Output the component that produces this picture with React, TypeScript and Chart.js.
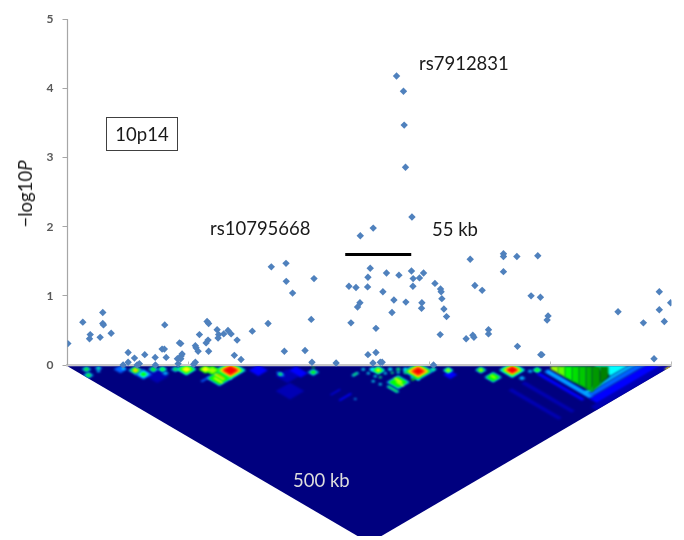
import React, { useEffect, useRef } from "react";
import { Chart, registerables } from "chart.js";

Chart.register(...registerables);

// Association results: position (kb) and -log10 P
const snpPositions = [
  0.3, 12.8, 19, 18.4, 29.5, 29.5, 30.1, 27.3, 36.5, 50.7, 50.7, 46.5, 56, 60.1, 58.2, 64.6, 73.3, 73.5, 79.1, 81, 82.5, 81.3,
  93.6, 94.7, 95.8, 95, 91.9, 94.7, 92.5, 106.9, 107.5, 109.2, 106.9, 105.5, 110.3, 118, 117.5, 115.9, 116.7, 118, 125.1, 126.4,
  125.9, 130.6, 134.2, 136.8, 141.8, 139.5, 145.1, 154.5, 167.7, 181.3, 198.6, 204.4, 203.8, 224.6, 188.2, 206.1, 170.4, 182.7,
  182.9, 253.1, 251.2, 266.7, 277.1, 287.6, 297.7, 289, 294.3, 235.3, 241.2, 250.9, 288.8, 263.7, 307.2, 311.9, 312.4, 313, 272.9,
  282.9, 296.3, 296, 244.5, 242.5, 314.7, 271.3, 316.9, 237, 257.9, 311.6, 251.2, 257.9, 255.4, 261.5, 263.1, 306, 336.7, 364.5,
  364.5, 375.7, 393.2, 364.5, 340.6, 346.7, 387.6, 395.4, 401.8, 401, 352, 352, 338.9, 339.8, 333.3, 376.2, 395.7, 396.6, 460.3,
  481.5, 494.8, 494.8, 499, 504.3, 490.4, 275.1, 280.9, 281.5, 282.6, 288, 255.6, 244.8,
];
const snpLogP = [
  0.31, 0.62, 0.44, 0.38, 0.76, 0.6, 0.58, 0.4, 0.46, 0.18, 0.04, 0, 0.1, 0.02, 0, 0.15, 0.11, 0, 0.23, 0.23, 0.11, 0.58,
  0.32, 0.31, 0.16, 0.13, 0.09, 0.09, 0.02, 0.28, 0.25, 0.2, 0.04, 0.01, 0.44, 0.2, 0.36, 0.32, 0.63, 0.6, 0.51, 0.44,
  0.39, 0.45, 0.5, 0.45, 0.36, 0.14, 0.08, 0.49, 0.6, 0.2, 0.21, 0.04, 0.66, 0.03, 1.04, 1.25, 1.42, 1.47,
  1.21, 1.4, 1.27, 1.33, 1.3, 1.36, 1.33, 1.25, 1.26, 1.14, 1.12, 1.13, 1.14, 1.06, 1.18, 1.1, 1.06, 0.96, 0.94,
  0.91, 0.9, 0.82, 0.9, 0.84, 0.81, 0.76, 0.7, 0.61, 0.53, 0.44, 0.15, 0.18, 0.03, 0.04, 0.04, 0, 1.53, 1.61,
  1.57, 1.57, 1.58, 1.35, 1.15, 1.08, 1.0, 0.98, 0.71, 0.65, 0.51, 0.45, 0.43, 0.4, 0.38, 0.27, 0.15, 0.15, 0.77,
  0.61, 1.06, 0.8, 0.63, 0.9, 0.09, 4.18, 3.96, 3.47, 2.86, 2.14, 1.98, 1.87,
];

// 55 kb scale bar
const barStartKb = 232.2;
const barEndKb = 287.4;
const barLevel = 1.6;

// LD triangle outline: position (kb) and depth (kb), cut by the picture's lower edge
const triangleX = [0, 242.5, 262.5, 505];
const triangleDepth = [0, 242.5, 242.5, 0];

const ldColours = [
  "#00007f", "#0000b4", "#0000ff", "#0060ff", "#00b0ff", "#00ffff", "#00ff80", "#00ff00", "#a0ff00",
  "#ffff00", "#ff8000", "#ff0000", "#60ff00", "#00e000", "#00c800", "#00b000", "#009800", "#008000",
];

// LD regions: centre x, centre depth, half range along A, half range along B, colour level
const ldCells = [
  // left group
  [15.9, 4.3, 4.2, 4.2, 4], [15.9, 4.3, 2.5, 2.5, 7], [17.5, 12.8, 4.5, 4.5, 4], [17.5, 12.8, 2.5, 2.5, 7],
  [25.9, 2.8, 3.5, 3.5, 3], [25.9, 2.8, 2, 2, 6], [25.9, 7, 2, 2, 4],
  [44.3, 4.3, 5.8, 5.8, 3], [46.8, 3, 2, 2, 5],
  [56.8, 5.7, 6.3, 6.3, 4], [56.8, 5.7, 4.5, 4.5, 7], [56.8, 5.7, 2.8, 2.8, 9], [56.8, 5.7, 1.5, 1.5, 10],
  [63.5, 11.3, 7.5, 7.5, 3], [63.5, 11.3, 5, 5, 5], [63.5, 11.3, 3.2, 3.2, 7],
  [71.8, 4.3, 4.5, 4.5, 4], [71.8, 4.3, 2.8, 2.8, 7], [79.4, 4.3, 4, 4, 5], [79.4, 4.3, 2.5, 2.5, 7], [81.9, 9.9, 3, 3, 4],
  [90.2, 4.3, 4, 4, 4], [90.2, 4.3, 2.2, 2.2, 7],
  [99.4, 4.3, 8.5, 8.5, 5], [99.4, 4.3, 7, 7, 7], [99.4, 4.3, 4.5, 4.5, 9],
  [115.3, 4.3, 6, 6, 7], [115.3, 4.3, 4, 4, 9], [121.1, 5.7, 7, 7, 7], [121.1, 5.7, 4.5, 4.5, 8],
  [136.2, 5.7, 13, 13, 5], [136.2, 5.7, 11, 11, 7], [136.2, 5.7, 9.5, 9.5, 9], [136.2, 5.7, 8, 8, 10], [136.2, 5.7, 6.2, 6.2, 11],
  [127, 17, 11, 11, 4], [127, 17, 9.5, 9.5, 7], [127, 15, 1.5, 8, 9], [128, 14, 0.7, 6, 10], [126, 20, 1.5, 7, 9],
  [115.3, 18.4, 7, 1.5, 3], [75, 14, 10, 10, 1], [159.6, 5.7, 8, 8, 2], [178, 11, 1.5, 6, 3],
  // middle
  [178, 11.3, 3, 3, 4], [178, 11.3, 1.8, 1.8, 7], [186, 35.4, 12, 12, 1], [205.5, 8.5, 5, 5, 4], [205.5, 8.5, 3, 3, 7], [205.5, 1.4, 1.5, 1.5, 7],
  [193, 8, 6, 10, 2], [183.8, 14, 10, 10, 1],
  [240.6, 11.3, 5, 2, 4], [240.6, 11.3, 3.5, 1, 7], [232.2, 44, 10, 1.5, 2], [224, 37, 8, 1, 2], [240.6, 46.8, 1.5, 1.5, 4],
  // central cluster
  [254.8, 4.3, 3, 3, 5], [259.8, 5.7, 6, 6, 5], [259.8, 5.7, 4.5, 4.5, 7], [259.8, 5.7, 2.5, 2.5, 9], [247.3, 4.3, 2, 2, 5],
  [269.8, 4.3, 2.5, 2.5, 5], [276.5, 4.3, 2.5, 2.5, 6], [282.4, 4.3, 2.5, 2.5, 5],
  [293.2, 7, 13, 13, 4], [293.2, 7, 11, 11, 7], [293.2, 7, 9, 9, 9], [293.2, 7, 7.5, 7.5, 10], [293.2, 7, 5, 5, 11],
  [305.8, 4.3, 3, 3, 5], [305.8, 4.3, 1.5, 1.5, 7], [318.3, 5.7, 4.5, 4.5, 5], [318.3, 5.7, 3, 3, 7], [318.3, 5.7, 1.8, 1.8, 9],
  [251.5, 9.9, 1.8, 1.8, 5], [257.3, 14.2, 1.8, 1.8, 5], [261.5, 15.6, 1.8, 1.8, 6], [265.7, 9.9, 1.8, 1.8, 5], [271.5, 9.2, 1.8, 1.8, 6],
  [276.5, 8.5, 1.8, 1.8, 5], [282.4, 9.2, 1.8, 1.8, 6], [288.2, 15.6, 1.8, 1.8, 5], [255.6, 21.3, 1.8, 1.8, 5], [261.5, 25.5, 1.8, 1.8, 5], [293.2, 18.4, 1.8, 1.8, 5],
  [276.5, 22.7, 10, 10, 4], [276.5, 22.7, 8, 8, 7], [276.5, 20, 1.5, 6, 9], [278, 25, 1.2, 6, 9],
  [272, 32.6, 2.2, 9, 4], [272, 32.6, 1.2, 8, 7], [290.7, 17, 6, 1.5, 7],
  // right group
  [320, 12, 6, 6, 2], [345.6, 5.2, 5, 5, 4], [345.6, 5.2, 3.5, 3.5, 7], [345.6, 5.2, 1.8, 1.8, 9],
  [355.9, 15.6, 7.5, 7.5, 4], [355.9, 15.6, 6, 6, 7], [355.9, 15, 1, 4, 9],
  [371.8, 5.2, 11, 11, 5], [371.8, 5.2, 9, 9, 7], [371.8, 5.2, 7.5, 7.5, 9], [371.8, 5.2, 5.5, 5.5, 11],
  [392.7, 5.2, 4, 4, 5], [392.7, 5.2, 2.8, 2.8, 7], [380, 17, 3, 3, 4], [386.8, 7, 2.5, 2.5, 4],
  [419, 25, 3.5, 38, 3], [419, 25, 2, 36, 4], [412.3, 29, 2.5, 38, 2], [401.8, 44, 3, 42, 1], [391, 54, 3, 42, 1],
  [454, 17, 43, 3, 4], [458.75, 19.25, 45.5, 4, 3], [465.5, 23, 52.5, 6.5, 2], [471, 29, 62.5, 5, 1],
  [454, 0, 14, 14, 5], [502.9, 4.3, 4, 4, 9], [502.9, 4.3, 1.5, 1.5, 10],
];

// High LD wedge, as columns: left x, right x, left depth, right depth, colour level
const ldColumns = [
  [404.3, 410.2, 4.3, 9.9, 8], [410.2, 416, 9.9, 15.6, 12], [416, 421.9, 15.6, 21.3, 7], [421.9, 427.7, 21.3, 26.2, 13],
  [427.7, 433.6, 26.2, 32, 14], [433.6, 438.6, 32, 36.9, 15], [438.6, 445.3, 36.9, 26.2, 16], [445.3, 452, 26.2, 15.6, 17],
];

const depthToValue = (d: number) => -0.0187 - d * 0.01012;

const ldPlugin = {
  id: "ldHeat",
  afterDatasetDraw(chart: any, args: any) {
    if (args.index !== 3) return;
    const { ctx, scales } = chart;
    const px = (x: number) => scales.x.getPixelForValue(x);
    const py = (d: number) => scales.y.getPixelForValue(depthToValue(d));
    const poly = (pts: number[][]) => {
      ctx.beginPath();
      pts.forEach(([x, d], i) => (i ? ctx.lineTo(px(x), py(d)) : ctx.moveTo(px(x), py(d))));
      ctx.closePath();
    };
    ctx.save();
    poly(triangleX.map((x, i) => [x, triangleDepth[i]]));
    ctx.clip();
    ctx.filter = "blur(0.8px)";
    const ordered = [...ldCells].sort((p, q) => p[4] - q[4]);
    ordered.forEach(([x, d, ra, rb, level]) => {
      const a = x - d;
      const b = x + d;
      const corner = (u: number, v: number) => [(u + v) / 2, (v - u) / 2];
      poly([corner(a - ra, b - rb), corner(a + ra, b - rb), corner(a + ra, b + rb), corner(a - ra, b + rb)]);
      ctx.fillStyle = ldColours[level];
      ctx.fill();
    });
    ldColumns.forEach(([x1, x2, d1, d2, level]) => {
      poly([[x1 - 0.3, 0], [x2 + 0.3, 0], [x2 + 0.3, d2], [x1 - 0.3, d1]]);
      ctx.fillStyle = ldColours[level];
      ctx.fill();
    });
    ctx.restore();
  },
};

const textFont = "Lato, 'Open Sans', sans-serif";
const label = (left: number, top: number, extra: React.CSSProperties = {}): React.CSSProperties => ({
  position: "absolute",
  left,
  top,
  fontFamily: textFont,
  fontSize: 18.5,
  lineHeight: "22px",
  color: "#1a1a1a",
  whiteSpace: "nowrap",
  ...extra,
});

export default function App() {
  const ref = useRef<HTMLCanvasElement>(null);
  useEffect(() => {
    document.body.style.margin = "0";
    const chart = new Chart(ref.current!, {
      type: "scatter",
      plugins: [ldPlugin],
      data: {
        datasets: [
          {
            type: "scatter",
            label: "SNPs",
            order: 1,
            data: snpPositions.map((x, i) => ({ x, y: snpLogP[i] })),
            backgroundColor: "#4F81BD",
            borderWidth: 0,
            pointStyle: "rectRot",
            pointRadius: 3.7,
          },
          {
            type: "line",
            label: "55 kb",
            order: 2,
            data: [{ x: barStartKb, y: barLevel }, { x: barEndKb, y: barLevel }],
            borderColor: "#000000",
            borderWidth: 3,
            pointRadius: 0,
            fill: false,
          },
          {
            type: "line",
            label: "y axis",
            order: 3,
            clip: false,
            data: [{ x: 0, y: 0 }, { x: 0, y: 5 }],
            borderColor: "#a6a6a6",
            borderWidth: 1.2,
            pointRadius: 0,
            fill: false,
          },
          {
            type: "line",
            label: "LD",
            order: 4,
            data: triangleX.map((x, i) => ({ x, y: depthToValue(triangleDepth[i]) })),
            borderColor: "#00007f",
            borderWidth: 0,
            backgroundColor: ldColours[0],
            pointRadius: 0,
            tension: 0,
            fill: { value: depthToValue(0) },
          },
        ] as any,
      },
      options: {
        responsive: false,
        animation: false,
        layout: { padding: { top: 19.3, right: 12.5, bottom: 0, left: 0 } },
        plugins: { legend: { display: false }, tooltip: { enabled: false }, title: { display: false } },
        scales: {
          x: {
            type: "linear",
            position: { y: 0 } as any,
            min: 0,
            max: 505,
            ticks: { stepSize: 100, display: false },
            grid: { drawOnChartArea: false, tickLength: -5, color: "#bdbdbd" },
            border: { color: "#c8c8c8", width: 2.5 },
          },
          y: {
            type: "linear",
            min: -2.473,
            max: 5,
            afterBuildTicks: (axis: any) => {
              axis.ticks = axis.ticks.filter((t: any) => t.value >= 0 && Number.isInteger(t.value));
            },
            afterFit: (axis: any) => {
              axis.width = 67.5;
              axis.paddingTop = 0;
              axis.paddingBottom = 0;
            },
            ticks: {
              stepSize: 1,
              padding: 9,
              color: "#595959",
              font: { family: textFont, size: 12, weight: "bold" },
            },
            grid: { drawOnChartArea: false, tickLength: 5, color: "#a6a6a6" },
            border: { display: false },
          },
        },
      },
    } as any);
    return () => chart.destroy();
  }, []);
  return (
    <div style={{ position: "fixed", left: 0, top: 0, width: 684, height: 540, overflow: "hidden", background: "#fff", filter: "blur(0.4px)" }}>
      <canvas ref={ref} width={684} height={540} style={{ display: "block" }} />
      <div style={label(419, 52)}>rs7912831</div>
      <div style={label(210, 217)}>rs10795668</div>
      <div style={label(432, 218)}>55 kb</div>
      <div style={label(106, 117, { width: 70, height: 32, lineHeight: "32px", textAlign: "center", border: "1px solid #404040" })}>10p14</div>
      <div style={label(293, 469, { color: "#dcdcdc" })}>500 kb</div>
      <div style={label(25, 194, { transform: "translate(-50%,-50%) rotate(-90deg)" })}>
        −log10<i>P</i>
      </div>
    </div>
  );
}
